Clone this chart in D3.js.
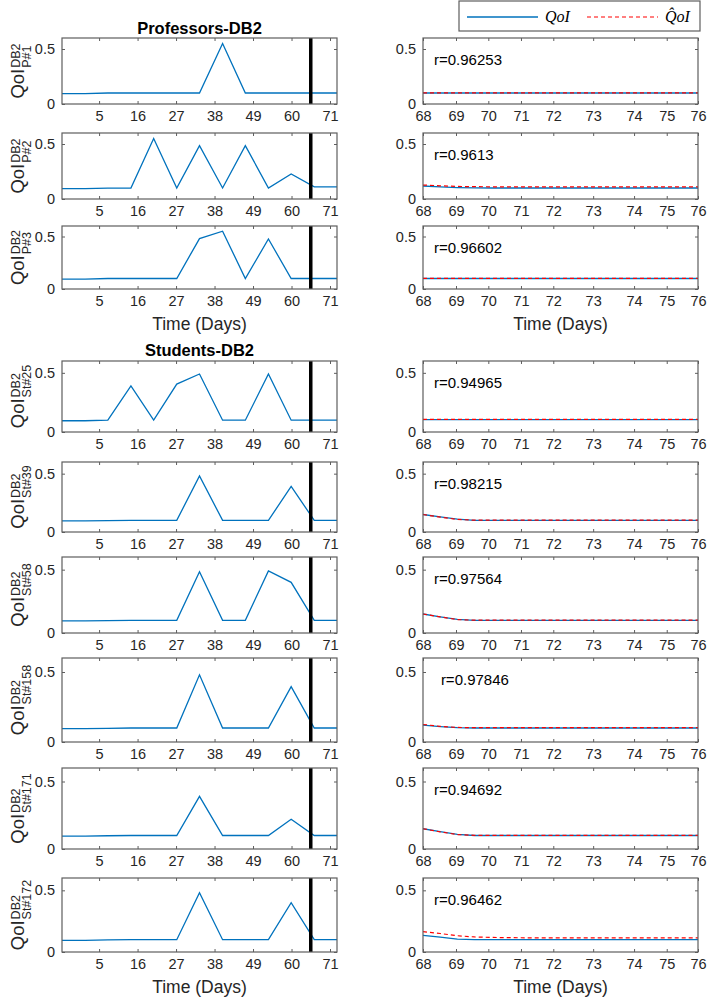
<!DOCTYPE html>
<html><head><meta charset="utf-8">
<script src="https://cdn.jsdelivr.net/npm/d3@7"></script>
<style>
body{margin:0;background:#fff;}
svg{display:block;font-family:"Liberation Sans",Arial,sans-serif;}
</style></head>
<body><svg id="chart" width="708" height="1000"></svg>
<script>
// ---------------- data ----------------
const panelNames = ["P#1","P#2","P#3","St#25","St#39","St#58","St#158","St#171","St#172"];
const rValues = ["r=0.96253","r=0.9613","r=0.96602","r=0.94965","r=0.98215","r=0.97564","r=0.97846","r=0.94692","r=0.96462"];
const rTextX = [68.32,68.32,68.32,68.32,68.32,68.32,68.52,68.32,68.32];

const leftDays = [-5.6, 1.0, 7.5, 14.1, 20.6, 27.2, 33.7, 40.3, 46.8, 53.4, 59.9, 66.5, 73.0];
const leftTickValues = [5,16,27,38,49,60,71];
const cutoffDay = 65.5;

const qoiP1   = [0.095,0.095,0.1,0.1,0.1,0.1,0.1,0.55,0.1,0.1,0.1,0.1,0.1];
const qoiP2   = [0.095,0.095,0.098,0.1,0.55,0.1,0.485,0.1,0.485,0.1,0.227,0.11,0.11];
const qoiP3   = [0.095,0.095,0.1,0.1,0.1,0.1,0.48,0.55,0.1,0.476,0.1,0.1,0.1];
const qoiSt25 = [0.095,0.095,0.1,0.39,0.1,0.405,0.49,0.1,0.1,0.49,0.1,0.1,0.1];
const qoiSt39 = [0.095,0.095,0.098,0.1,0.1,0.1,0.48,0.1,0.1,0.1,0.39,0.1,0.1];
const qoiSt58 = [0.095,0.095,0.098,0.1,0.1,0.1,0.484,0.1,0.1,0.49,0.4,0.1,0.1];
const qoiSt158= [0.095,0.095,0.098,0.1,0.1,0.1,0.48,0.1,0.1,0.1,0.395,0.1,0.1];
const qoiSt171= [0.095,0.095,0.098,0.1,0.1,0.1,0.39,0.1,0.1,0.1,0.22,0.1,0.1];
const qoiSt172= [0.095,0.095,0.098,0.1,0.1,0.1,0.48,0.1,0.1,0.1,0.4,0.1,0.1];

const rightX = [68, 68.5, 69, 69.5, 70, 71, 72, 73, 74, 75, 76];
const rightTickPos = [68, 68.96, 69.9, 70.85, 71.79, 72.95, 74.14, 75.09, 76];
const rightTickLabels = ["68","69","70","71","72","73","74","75","76"];

const fitP1    = [0.1,0.1,0.1,0.1,0.1,0.1,0.1,0.1,0.1,0.1,0.1];
const predP1   = [0.101,0.101,0.101,0.101,0.101,0.101,0.101,0.101,0.101,0.101,0.101];
const fitP2    = [0.118,0.11,0.104,0.101,0.1,0.1,0.1,0.1,0.1,0.1,0.1];
const predP2   = [0.127,0.12,0.114,0.112,0.111,0.111,0.111,0.111,0.111,0.111,0.111];
const fitP3    = [0.1,0.1,0.1,0.1,0.1,0.1,0.1,0.1,0.1,0.1,0.1];
const predP3   = [0.102,0.102,0.102,0.102,0.102,0.102,0.102,0.102,0.102,0.102,0.102];
const fitSt25  = [0.104,0.104,0.104,0.104,0.104,0.104,0.104,0.104,0.104,0.104,0.104];
const predSt25 = [0.106,0.106,0.106,0.106,0.106,0.106,0.106,0.106,0.106,0.106,0.106];
const fitSt39  = [0.15,0.13,0.11,0.1,0.1,0.1,0.1,0.1,0.1,0.1,0.1];
const predSt39 = [0.15,0.128,0.108,0.101,0.101,0.101,0.101,0.101,0.101,0.101,0.101];
const fitSt58  = [0.15,0.128,0.108,0.1,0.1,0.1,0.1,0.1,0.1,0.1,0.1];
const predSt58 = [0.15,0.127,0.106,0.101,0.101,0.101,0.101,0.101,0.101,0.101,0.101];
const fitSt158 = [0.12,0.11,0.102,0.1,0.1,0.1,0.1,0.1,0.1,0.1,0.1];
const predSt158= [0.125,0.112,0.104,0.102,0.102,0.102,0.102,0.102,0.102,0.102,0.102];
const fitSt171 = [0.15,0.128,0.108,0.1,0.1,0.1,0.1,0.1,0.1,0.1,0.1];
const predSt171= [0.15,0.127,0.107,0.101,0.101,0.101,0.101,0.101,0.101,0.101,0.101];
const fitSt172 = [0.135,0.12,0.104,0.1,0.1,0.1,0.1,0.1,0.1,0.1,0.1];
const predSt172= [0.165,0.15,0.132,0.122,0.118,0.115,0.115,0.115,0.115,0.115,0.115];

const leftSeries  = [qoiP1,qoiP2,qoiP3,qoiSt25,qoiSt39,qoiSt58,qoiSt158,qoiSt171,qoiSt172];
const rightFit    = [fitP1,fitP2,fitP3,fitSt25,fitSt39,fitSt58,fitSt158,fitSt171,fitSt172];
const rightPred   = [predP1,predP2,predP3,predSt25,predSt39,predSt58,predSt158,predSt171,predSt172];

// ---------------- layout ----------------
const L0 = 62, L1 = 337, R0 = 423, R1 = 698;
const rowTops    = [38,133,226,361,462,557,658,768,878];
const rowBottoms = [104,199,289,432,532,633,742,849,952];
const BLUE = "#0072BD", RED = "#FF0000", AX = "#262626", FRAME = "#5e5e5e";
const TICKFS = "14.5px";

const svg = d3.select("#chart");
const xL = d3.scaleLinear().domain([-5.6, 73]).range([L0, L1]);
const xR = d3.scaleLinear().domain([68, 76]).range([R0, R1]);

function styleAxis(g){
  g.select(".domain").remove();
  g.selectAll(".tick line").attr("stroke", FRAME).attr("stroke-width", 1);
  g.selectAll(".tick text").attr("fill", AX).style("font-size", TICKFS).style("font-family","Liberation Sans, Arial, sans-serif");
}

function drawPanel(x, x0, x1, top, bottom, tickVals, tickFmt){
  const y = d3.scaleLinear().domain([0, 0.6]).range([bottom, top]);
  const g = svg.append("g");
  g.append("g").attr("transform",`translate(0,${bottom})`)
    .call(d3.axisBottom(x).tickValues(tickVals).tickSize(-3).tickPadding(7).tickFormat(tickFmt)).call(styleAxis);
  g.append("g").attr("transform",`translate(0,${top})`)
    .call(d3.axisTop(x).tickValues(tickVals).tickSize(-3).tickFormat("")).call(styleAxis);
  g.append("g").attr("transform",`translate(${x0},0)`)
    .call(d3.axisLeft(y).tickValues([0,0.5]).tickSize(-3).tickPadding(7).tickFormat(d => d===0 ? "0" : "0.5")).call(styleAxis);
  g.append("g").attr("transform",`translate(${x1},0)`)
    .call(d3.axisRight(y).tickValues([0,0.5]).tickSize(-3).tickFormat("")).call(styleAxis);
  return {g, y};
}

panelNames.forEach((name, i) => {
  const top = rowTops[i], bottom = rowBottoms[i];
  // ----- left panel -----
  const lp = drawPanel(xL, L0, L1, top, bottom, leftTickValues, d => String(d));
  const lineL = d3.line().x((d,j) => xL(leftDays[j])).y(d => lp.y(d));
  lp.g.append("path").datum(leftSeries[i]).attr("d", lineL)
    .attr("fill","none").attr("stroke",BLUE).attr("stroke-width",1.3);
  lp.g.append("line").attr("x1",xL(cutoffDay)).attr("x2",xL(cutoffDay))
    .attr("y1",top).attr("y2",bottom).attr("stroke","#000").attr("stroke-width",3.5);
  lp.g.append("rect").attr("x",L0).attr("y",top).attr("width",L1-L0).attr("height",bottom-top)
    .attr("fill","none").attr("stroke",FRAME).attr("stroke-width",1.2);

  // y label: QoI^{DB2}_{name}
  const mid = (top + bottom) / 2;
  const lab = svg.append("g").attr("transform",`translate(24,${mid}) rotate(-90)`);
  const main = lab.append("text").attr("y",0).attr("fill",AX).style("font-size","18.5px").text("QoI");
  const sup = lab.append("text").attr("y",-4).attr("fill",AX).style("font-size","12.5px").text("DB2");
  const sub = lab.append("text").attr("y",7).attr("fill",AX).style("font-size","12.5px").text(name);
  const wm = main.node().getComputedTextLength();
  const ws = Math.max(sup.node().getComputedTextLength(), sub.node().getComputedTextLength());
  const total = wm + 1 + ws;
  main.attr("x", -total/2);
  sup.attr("x", -total/2 + wm + 1);
  sub.attr("x", -total/2 + wm + 1);

  // ----- right panel -----
  const rp = drawPanel(xR, R0, R1, top, bottom, rightTickPos, (d,k) => rightTickLabels[k]);
  const lineR = d3.line().x((d,j) => xR(rightX[j])).y(d => rp.y(d));
  rp.g.append("path").datum(rightFit[i]).attr("d", lineR)
    .attr("fill","none").attr("stroke",BLUE).attr("stroke-width",1.3);
  rp.g.append("path").datum(rightPred[i]).attr("d", lineR)
    .attr("fill","none").attr("stroke",RED).attr("stroke-width",1.2).attr("stroke-dasharray","4,3");
  rp.g.append("rect").attr("x",R0).attr("y",top).attr("width",R1-R0).attr("height",bottom-top)
    .attr("fill","none").attr("stroke",FRAME).attr("stroke-width",1.2);
  rp.g.append("text").attr("x", xR(rTextX[i])).attr("y", top + 23).attr("dominant-baseline","middle")
    .attr("fill","#000").style("font-size","15px").text(rValues[i]);
});

// titles
svg.append("text").attr("x",(L0+L1)/2).attr("y",34).attr("text-anchor","middle")
  .style("font-size","16.5px").style("font-weight","bold").attr("fill","#000").text("Professors-DB2");
svg.append("text").attr("x",(L0+L1)/2).attr("y",rowTops[3]-5).attr("text-anchor","middle")
  .style("font-size","16.5px").style("font-weight","bold").attr("fill","#000").text("Students-DB2");

// x labels
[[ (L0+L1)/2, rowBottoms[2]+41 ], [ (R0+R1)/2, rowBottoms[2]+41 ], [ (L0+L1)/2, rowBottoms[8]+41 ], [ (R0+R1)/2, rowBottoms[8]+41 ]]
  .forEach(p => svg.append("text").attr("x",p[0]).attr("y",p[1]).attr("text-anchor","middle")
    .style("font-size","17.5px").attr("fill",AX).text("Time (Days)"));

// legend
const lg = svg.append("g");
lg.append("rect").attr("x",459).attr("y",1).attr("width",241).attr("height",30)
  .attr("fill","#fff").attr("stroke",FRAME).attr("stroke-width",1.2);
lg.append("line").attr("x1",467).attr("x2",538).attr("y1",17).attr("y2",17).attr("stroke",BLUE).attr("stroke-width",1.3);
lg.append("line").attr("x1",587).attr("x2",658).attr("y1",17).attr("y2",17).attr("stroke",RED).attr("stroke-width",1.2).attr("stroke-dasharray","4,3");
lg.append("text").attr("x",545).attr("y",22).style("font-family","Liberation Serif, serif").style("font-style","italic")
  .style("font-size","16px").attr("fill","#000").text("QoI");
lg.append("text").attr("x",665).attr("y",22).style("font-family","Liberation Serif, serif").style("font-style","italic")
  .style("font-size","16px").attr("fill","#000").text("Q\u0302oI");
</script></body></html>
